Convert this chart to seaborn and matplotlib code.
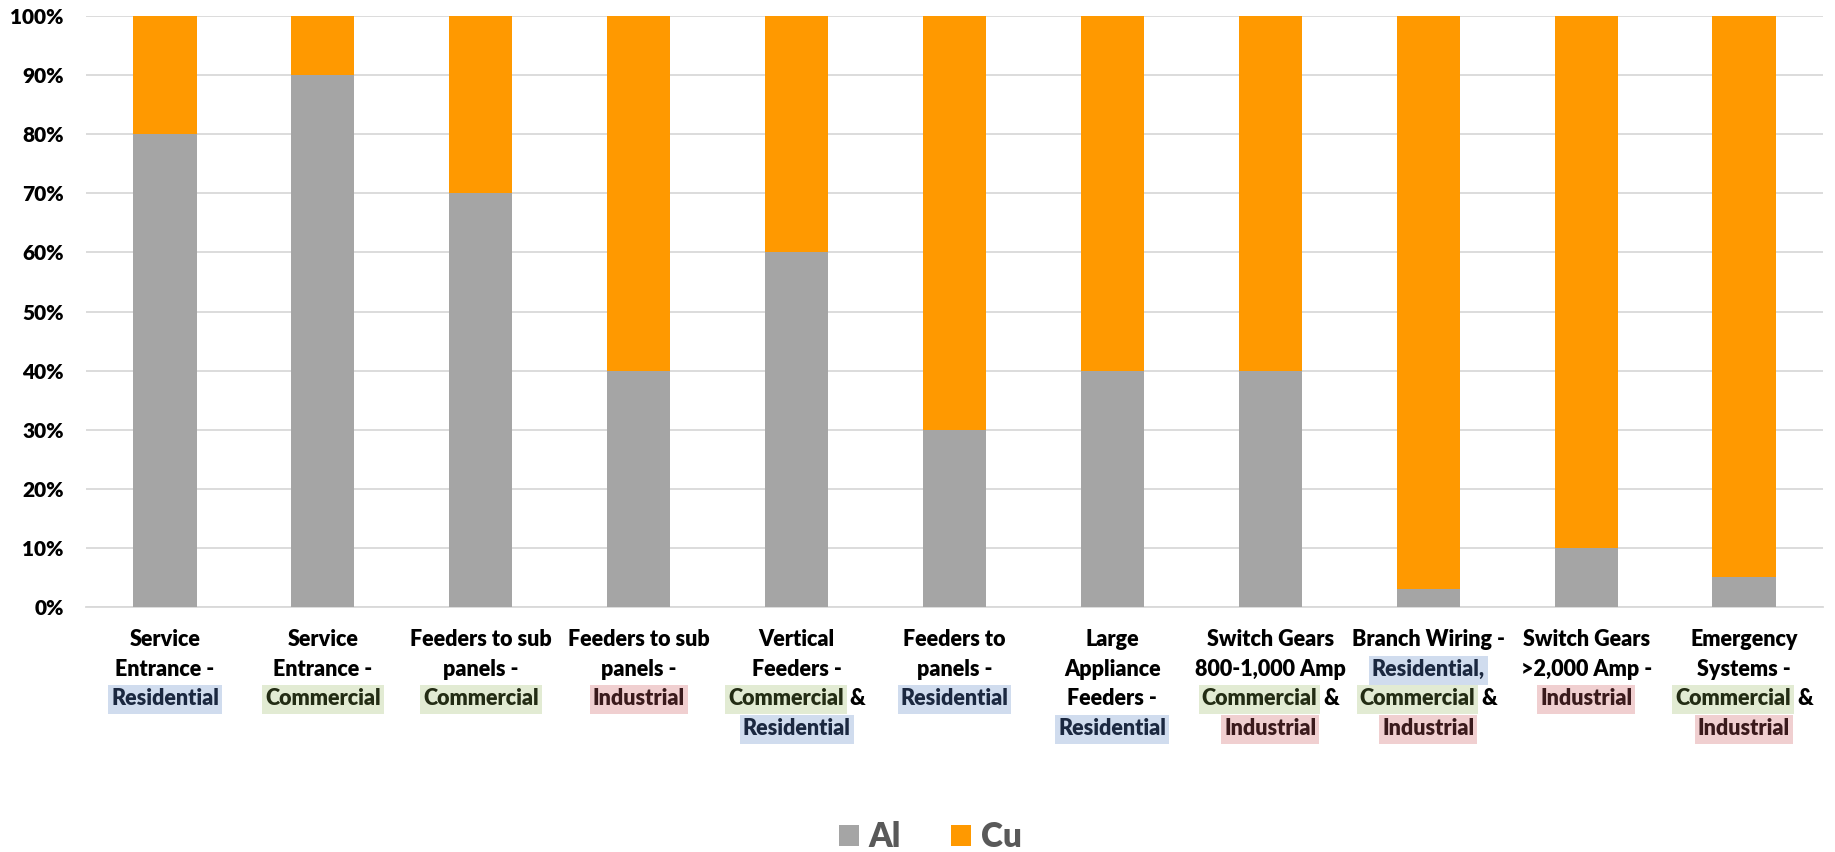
import matplotlib
matplotlib.use("Agg")
import matplotlib.pyplot as plt
import matplotlib.patches as mpatches
import matplotlib.transforms as mtransforms
import seaborn as sns

# ---------------- data ----------------
categories = [
    "Service Entrance - Residential",
    "Service Entrance - Commercial",
    "Feeders to sub panels - Commercial",
    "Feeders to sub panels - Industrial",
    "Vertical Feeders - Commercial & Residential",
    "Feeders to panels - Residential",
    "Large Appliance Feeders - Residential",
    "Switch Gears 800-1,000 Amp Commercial & Industrial",
    "Branch Wiring - Residential, Commercial & Industrial",
    "Switch Gears >2,000 Amp - Industrial",
    "Emergency Systems - Commercial & Industrial",
]
al_share = [80, 90, 70, 40, 60, 30, 40, 40, 3, 10, 5]
cu_share = [20, 10, 30, 60, 40, 70, 60, 60, 97, 90, 95]
series_names = ["Al", "Cu"]
ytick_values = [0, 10, 20, 30, 40, 50, 60, 70, 80, 90, 100]
ytick_labels = ["0%", "10%", "20%", "30%", "40%", "50%", "60%", "70%", "80%", "90%", "100%"]

# tick label lines: each line is a list of (text, sector tag)
label_lines = [
    [[("Service", None)], [("Entrance -", None)], [("Residential", "R")]],
    [[("Service", None)], [("Entrance -", None)], [("Commercial", "C")]],
    [[("Feeders to sub", None)], [("panels -", None)], [("Commercial", "C")]],
    [[("Feeders to sub", None)], [("panels -", None)], [("Industrial", "I")]],
    [[("Vertical", None)], [("Feeders -", None)], [("Commercial", "C"), ("&", None)], [("Residential", "R")]],
    [[("Feeders to", None)], [("panels -", None)], [("Residential", "R")]],
    [[("Large", None)], [("Appliance", None)], [("Feeders -", None)], [("Residential", "R")]],
    [[("Switch Gears", None)], [("800-1,000 Amp", None)], [("Commercial", "C"), ("&", None)], [("Industrial", "I")]],
    [[("Branch Wiring -", None)], [("Residential,", "R")], [("Commercial", "C"), ("&", None)], [("Industrial", "I")]],
    [[("Switch Gears", None)], [(">2,000 Amp -", None)], [("Industrial", "I")]],
    [[("Emergency", None)], [("Systems -", None)], [("Commercial", "C"), ("&", None)], [("Industrial", "I")]],
]

# ---------------- styles ----------------
AL_COLOR = "#A5A5A5"
CU_COLOR = "#FF9900"
GRID_COLOR = "#D9D9D9"
FONT = "Lato"
WEIGHT = "heavy"
highlight = {
    "R": ("#D0DCEE", "#1B2840"),
    "C": ("#E2EBD3", "#232C14"),
    "I": ("#F0CFD0", "#3A1A1C"),
}

W, H, DPI = 1835, 852, 100
sns.set_theme(style="white")
plt.rcParams["font.family"] = [FONT, "DejaVu Sans"]

fig = plt.figure(figsize=(W / DPI, H / DPI), dpi=DPI)
left_px, right_px, top_px, bottom_px = 86, 1823, 16, 607
ax = fig.add_axes([left_px / W, 1 - bottom_px / H,
                   (right_px - left_px) / W, (bottom_px - top_px) / H])

totals = [a + c for a, c in zip(al_share, cu_share)]
sns.barplot(x=categories, y=totals, color=CU_COLOR, saturation=1, width=0.4,
            ax=ax, zorder=3, linewidth=0)
sns.barplot(x=categories, y=al_share, color=AL_COLOR, saturation=1, width=0.4,
            ax=ax, zorder=4, linewidth=0)

ax.set_xlim(-0.5, len(categories) - 0.5)
ax.set_ylim(0, 100)
ax.set_yticks(ytick_values)
ax.set_yticklabels(ytick_labels, fontsize=15, fontweight=WEIGHT, color="black")
ax.set_xticks(range(len(categories)))
ax.set_xticklabels([""] * len(categories))
ax.tick_params(axis="both", length=0)
ax.tick_params(axis="y", pad=16)
ax.set_xlabel("")
ax.set_ylabel("")
ax.grid(axis="y", color=GRID_COLOR, linewidth=1.3, zorder=0)
ax.grid(axis="x", visible=False)
ax.set_axisbelow(True)
for s in ["left", "right", "top"]:
    ax.spines[s].set_visible(False)
ax.spines["bottom"].set_color(GRID_COLOR)
ax.spines["bottom"].set_linewidth(1.3)

# ---------------- custom multi-colour tick labels ----------------
renderer = fig.canvas.get_renderer()
ident = mtransforms.IdentityTransform()
LABEL_FS = 15.5
baseline0 = 646      # px from top
line_step = 29.6
gap = 6
box_pad = 3

for i, lines in enumerate(label_lines):
    cx = ax.transData.transform((i, 0))[0]
    for k, segs in enumerate(lines):
        base_top = baseline0 + k * line_step
        base_y = H - base_top
        texts = []
        widths = []
        for txt, tag in segs:
            color = "black" if tag is None else highlight[tag][1]
            t = fig.text(0, base_y, txt, transform=ident, fontsize=LABEL_FS,
                         fontweight=WEIGHT, color=color, ha="left",
                         va="baseline", zorder=5)
            bb = t.get_window_extent(renderer)
            texts.append((t, tag))
            widths.append(bb.width)
        total = sum(widths) + gap * (len(widths) - 1)
        x = cx - total / 2
        for (t, tag), w in zip(texts, widths):
            t.set_position((x, base_y))
            if tag is not None:
                rect = mpatches.Rectangle(
                    (x - box_pad, H - (base_top + 9)), w + 2 * box_pad, 29,
                    transform=ident, facecolor=highlight[tag][0],
                    edgecolor="none", zorder=1)
                fig.add_artist(rect)
            x += w + gap

# ---------------- legend ----------------
handles = [mpatches.Patch(facecolor=AL_COLOR, edgecolor="none", label=series_names[0]),
           mpatches.Patch(facecolor=CU_COLOR, edgecolor="none", label=series_names[1])]
leg = fig.legend(handles=handles, loc="center", bbox_to_anchor=(0.507, 1 - 837 / H),
                 ncol=2, frameon=False, prop={"family": FONT, "weight": WEIGHT, "size": 24},
                 handlelength=0.6, handleheight=0.6, handletextpad=0.3,
                 columnspacing=1.5, borderpad=0)
for t in leg.get_texts():
    t.set_color("#595959")

fig.savefig("out.png", dpi=DPI)
